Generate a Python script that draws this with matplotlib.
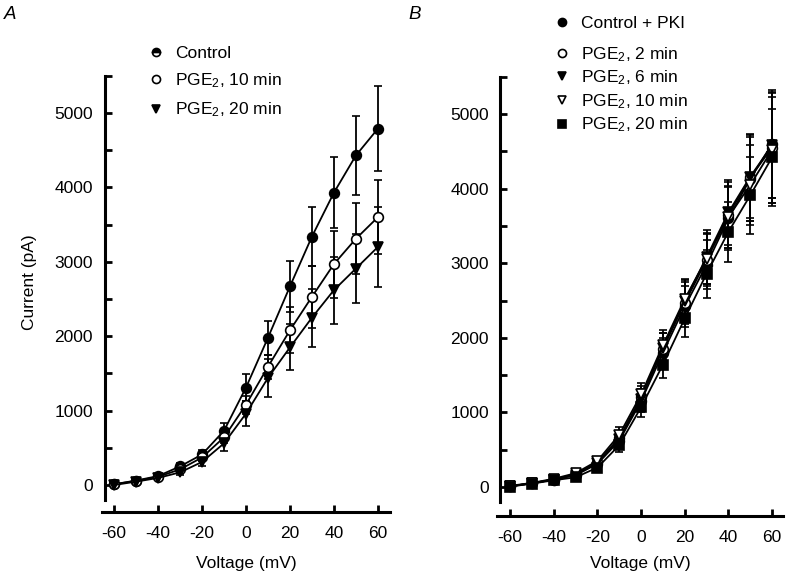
import matplotlib
matplotlib.use('Agg')
import matplotlib.pyplot as plt
import numpy as np
from matplotlib.lines import Line2D

plt.rcParams['font.family'] = ['Liberation Sans', 'DejaVu Sans']
plt.rcParams['mathtext.default'] = 'regular'
plt.rcParams['axes.unicode_minus'] = False

voltage = [-60, -50, -40, -30, -20, -10, 0, 10, 20, 30, 40, 50, 60]

# panel A
control = [10, 60, 120, 250, 410, 730, 1310, 1980, 2670, 3340, 3930, 4430, 4790]
control_err = [15, 20, 30, 40, 60, 100, 180, 230, 340, 400, 480, 530, 570]
pge10 = [10, 55, 110, 210, 370, 640, 1080, 1590, 2080, 2530, 2970, 3310, 3600]
pge10_err = [10, 15, 25, 35, 50, 80, 120, 160, 310, 420, 450, 480, 500]
pge20 = [0, 45, 95, 170, 310, 560, 960, 1440, 1850, 2250, 2620, 2910, 3200]
pge20_err = [10, 15, 20, 30, 50, 100, 170, 260, 310, 390, 450, 470, 540]

# panel B
pki = [10, 50, 100, 160, 310, 620, 1150, 1800, 2420, 2980, 3600, 4130, 4600]
pki_err = [10, 15, 20, 30, 50, 90, 140, 200, 270, 330, 420, 560, 720]
pki2 = [10, 50, 100, 170, 330, 660, 1200, 1850, 2470, 3040, 3650, 4150, 4550]
pki2_err = [10, 15, 20, 30, 50, 90, 150, 210, 280, 350, 440, 580, 740]
pki6 = [10, 50, 100, 160, 320, 640, 1180, 1870, 2500, 3080, 3680, 4160, 4580]
pki6_err = [10, 15, 20, 30, 50, 90, 140, 200, 280, 360, 430, 560, 700]
pki10 = [15, 55, 110, 185, 350, 700, 1240, 1900, 2520, 3060, 3620, 4050, 4520]
pki10_err = [10, 15, 20, 30, 50, 100, 150, 200, 270, 340, 420, 540, 710]
pki20 = [5, 45, 90, 130, 260, 560, 1070, 1640, 2260, 2860, 3420, 3910, 4420]
pki20_err = [10, 15, 20, 30, 50, 90, 130, 180, 250, 320, 400, 520, 650]

W, H = 787, 580
FS = 12.5


def px_axes(left, top, right, bottom):
    return [left / W, (H - bottom) / H, (right - left) / W, (bottom - top) / H]


def style_axes(ax, xlim, ylim, yspine_x, labelpad_y, xlabelpad):
    ax.set_xlim(*xlim)
    ax.set_ylim(*ylim)
    for s in ['top', 'right']:
        ax.spines[s].set_visible(False)
    ax.spines['left'].set_position(('data', yspine_x))
    ax.spines['left'].set_bounds(-200, 5500)
    ax.spines['left'].set_linewidth(2.2)
    ax.spines['bottom'].set_linewidth(2.2)
    ax.set_xticks([-60, -40, -20, 0, 20, 40, 60])
    yt = np.arange(0, 5501, 500)
    ax.set_yticks(yt)
    ax.set_yticklabels([str(v) if v % 1000 == 0 else '' for v in yt])
    ax.tick_params(axis='both', direction='in', length=5, width=2, labelsize=FS)
    ax.tick_params(axis='x', pad=10)
    ax.tick_params(axis='y', pad=labelpad_y)
    ax.set_xlabel('Voltage (mV)', fontsize=FS, labelpad=xlabelpad)


def draw(ax, y, err, marker, filled):
    ax.errorbar(voltage, y, yerr=err, color='black', lw=1.3, marker=marker,
                ms=7, mfc='black' if filled else 'white', mec='black', mew=1.2,
                ecolor='black', elinewidth=1.3, capsize=3, capthick=1.3)


def handle(marker, filled, alt=False):
    kw = dict(marker=marker, linestyle='none', color='black', ms=5.8,
              mfc='black' if filled else 'white', mec='black', mew=1.2)
    if alt:
        kw.update(fillstyle='top', mfcalt='white')
    return Line2D([], [], **kw)


fig = plt.figure(figsize=(W / 100, H / 100), dpi=100)

axA = fig.add_axes(px_axes(102, 73.6, 390, 512))
style_axes(axA, (-65.5, 65.5), (-363, 5530), -64.0, 9, 11)
draw(axA, control, control_err, 'o', True)
draw(axA, pge10, pge10_err, 'o', False)
draw(axA, pge20, pge20_err, 'v', True)
axA.set_ylabel('Current (pA)', fontsize=FS)
axA.yaxis.set_label_coords(-0.226, 0.525)

legkw = dict(frameon=False, fontsize=FS, handlelength=0.8, handletextpad=0.7,
             borderpad=0, borderaxespad=0, loc='upper left')
axA.legend([handle('o', True, alt=True), handle('o', False), handle('v', True)],
           ['Control', 'PGE$_2$, 10 min', 'PGE$_2$, 20 min'], labelspacing=0.6,
           bbox_to_anchor=(149 / W, 1 - 46 / H), bbox_transform=fig.transFigure, **legkw)

axB = fig.add_axes(px_axes(497, 74.5, 783, 516))
style_axes(axB, (-66, 65), (-389, 5530), -64.6, 8, 8)
draw(axB, pki, pki_err, 'o', True)
draw(axB, pki2, pki2_err, 'o', False)
draw(axB, pki6, pki6_err, 'v', True)
draw(axB, pki10, pki10_err, 'v', False)
draw(axB, pki20, pki20_err, 's', True)

l2 = axB.legend([handle('o', True)], ['Control + PKI'],
                bbox_to_anchor=(555 / W, 1 - 16 / H), bbox_transform=fig.transFigure, **legkw)
axB.add_artist(l2)
axB.legend([handle('o', False), handle('v', True), handle('v', False), handle('s', True)],
           ['PGE$_2$, 2 min', 'PGE$_2$, 6 min', 'PGE$_2$, 10 min', 'PGE$_2$, 20 min'],
           labelspacing=0.28,
           bbox_to_anchor=(555 / W, 1 - 45 / H), bbox_transform=fig.transFigure, **legkw)

fig.text(4 / W, 1 - 6 / H, 'A', fontsize=13.5, style='italic', va='top', ha='left')
fig.text(408 / W, 1 - 6 / H, 'B', fontsize=13.5, style='italic', va='top', ha='left')

fig.savefig('out.png', dpi=100)
